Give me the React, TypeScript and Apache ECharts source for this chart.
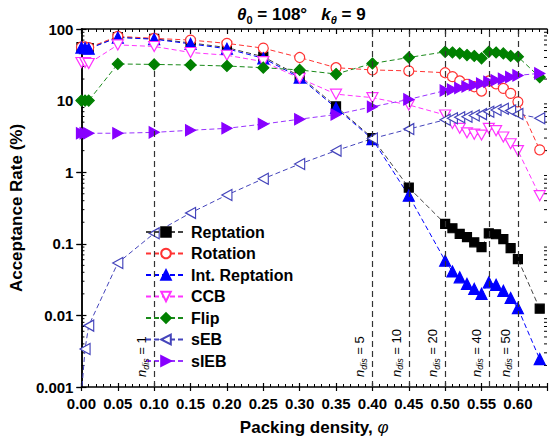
import React, { useEffect, useRef } from "react";
import * as echarts from "echarts";

const phi = [0, 0.005, 0.01, 0.05, 0.1, 0.15, 0.2, 0.25, 0.3, 0.35, 0.4, 0.45, 0.5, 0.51, 0.52, 0.53, 0.54, 0.55, 0.56, 0.57, 0.58, 0.59, 0.6, 0.63];

const reptation = [56, 55, 54, 77, 73, 64, 55, 41, 22, 8.3, 3.0, 0.61, 0.19, 0.165, 0.138, 0.124, 0.105, 0.09, 0.14, 0.136, 0.116, 0.087, 0.061, 0.0124];
const rotation = [56, 56, 55, 79, 74, 70, 63, 54, 40, 28.8, 26.8, 26, 24.5, 21.6, 18.8, 16.9, 15.6, 13.6, 18.8, 17.1, 14.8, 12.6, 9.6, 2.05];
const intReptation = [55, 54, 53, 76, 72, 62, 53, 39, 21, 7.9, 2.9, 0.47, 0.058, 0.041, 0.034, 0.0275, 0.0234, 0.02, 0.029, 0.0267, 0.022, 0.0175, 0.0126, 0.00245];
const ccb = [34, 34, 33, 60, 57, 47, 43, 35, 20.5, 12.3, 11, 8.7, 6.3, 4.8, 4.1, 3.55, 3.4, 3.3, 4.1, 3.8, 3.1, 2.5, 2.0, 0.47];
const flip = [10, 10, 10, 32.5, 32, 31.4, 30.4, 28.8, 26.8, 23.5, 33, 40, 48, 47, 45.7, 43.3, 42, 39, 48, 47, 45.6, 42, 41, 21.2];
const sEB = [0.0008, 0.0034, 0.0072, 0.054, 0.14, 0.27, 0.48, 0.81, 1.3, 2.0, 2.95, 4.0, 5.4, 5.66, 5.85, 5.96, 6.2, 6.47, 7.0, 7.4, 7.7, 7.25, 6.5, 5.66];
const sIEB = [3.5, 3.5, 3.5, 3.5, 3.6, 3.85, 4.1, 4.7, 5.5, 6.4, 8.2, 10.4, 13.8, 14.3, 15, 15.7, 16.5, 17.3, 18.3, 19.2, 20.2, 21.3, 22.5, 24];

const seriesNames = ["Reptation", "Rotation", "Int. Reptation", "CCB", "Flip", "sEB", "sIEB"];

const ndisX = [0.1, 0.4, 0.45, 0.5, 0.56, 0.6];
const ndisTop = [30, 100, 100, 100, 100, 100];
const ndisLabels = ["1", "5", "10", "20", "40", "50"];

const yMinorTicks = [
  0.002, 0.003, 0.004, 0.005, 0.006, 0.007, 0.008, 0.009,
  0.02, 0.03, 0.04, 0.05, 0.06, 0.07, 0.08, 0.09,
  0.2, 0.3, 0.4, 0.5, 0.6, 0.7, 0.8, 0.9,
  2, 3, 4, 5, 6, 7, 8, 9,
  20, 30, 40, 50, 60, 70, 80, 90,
];

const FONT = 'Arial, "Liberation Sans", sans-serif';

const X_MIN = 0;
const X_MAX = 0.64;
const Y_MIN = 0.001;
const Y_MAX = 100;

export default function App() {
  const ref = useRef<HTMLDivElement>(null);

  useEffect(() => {
    if (!ref.current) return;
    const chart = echarts.init(ref.current, null, { renderer: "svg" });

    const pair = (vals: number[]) => phi.map((x, i) => [x, vals[i]]);
    const dash = [5, 3];

    const mkSeries = (
      name: string,
      vals: number[],
      lineColor: string,
      symbol: string,
      size: number | number[],
      fill: string,
      stroke: string
    ) => ({
      name,
      type: "line",
      xAxisIndex: 0,
      yAxisIndex: 0,
      data: pair(vals),
      symbol,
      symbolSize: size,
      showAllSymbol: true,
      lineStyle: { color: lineColor, width: 1, type: dash },
      itemStyle: { color: fill, borderColor: stroke, borderWidth: 1.2 },
      emphasis: { disabled: true },
      z: 3,
    });

    const axisLineStyle = { show: true, lineStyle: { color: "#000", width: 1.5 } };
    const tickStyle = { color: "#000", width: 1.2 };

    const xCommon = { type: "value", min: X_MIN, max: X_MAX, splitLine: { show: false }, gridIndex: 0 };
    const yCommon = { type: "log", logBase: 10, min: Y_MIN, max: Y_MAX, splitLine: { show: false }, gridIndex: 0 };

    const option: any = {
      animation: false,
      backgroundColor: "#fff",
      textStyle: { fontFamily: FONT },
      title: {
        text: "{th|θ}{sub|0}{b| = 108°   }{k|k}{subi|θ}{b| = 9}",
        left: 232,
        top: -2,
        textStyle: {
          rich: {
            th: { fontSize: 17, fontWeight: "bold", fontStyle: "italic", fontFamily: FONT, color: "#000", lineHeight: 22 },
            sub: { fontSize: 11, fontWeight: "bold", fontFamily: FONT, color: "#000", verticalAlign: "bottom", lineHeight: 22 },
            b: { fontSize: 17, fontWeight: "bold", fontFamily: FONT, color: "#000", lineHeight: 22 },
            k: { fontSize: 17, fontWeight: "bold", fontStyle: "italic", fontFamily: FONT, color: "#000", lineHeight: 22 },
            subi: { fontSize: 11, fontWeight: "bold", fontStyle: "italic", fontFamily: FONT, color: "#000", verticalAlign: "bottom", lineHeight: 22 },
          },
        },
      },
      legend: {
        data: seriesNames,
        orient: "vertical",
        left: 140,
        top: 219,
        itemWidth: 40,
        itemHeight: 12,
        itemGap: 5.5,
        selectedMode: false,
        textStyle: { fontSize: 16, fontWeight: "bold", color: "#000", fontFamily: FONT, lineHeight: 16 },
      },
      grid: { left: 61, right: 3, top: 29, bottom: 53.5, containLabel: false },
      xAxis: [
        {
          ...xCommon,
          position: "bottom",
          interval: 0.05,
          axisLine: axisLineStyle,
          axisTick: { show: true, inside: false, length: 4, lineStyle: tickStyle },
          axisLabel: {
            show: true,
            margin: 9,
            fontSize: 15,
            fontWeight: "bold",
            color: "#000",
            fontFamily: FONT,
            formatter: (v: number) => (v > 0.605 ? "" : v.toFixed(2)),
          },
          name: "{a|Packing density, }{p|φ}",
          nameLocation: "middle",
          nameGap: 32,
          nameTextStyle: {
            rich: {
              a: { fontSize: 17, fontWeight: "bold", color: "#000", fontFamily: FONT },
              p: { fontSize: 17, fontStyle: "italic", color: "#000", fontFamily: FONT },
            },
          },
        },
        {
          ...xCommon,
          position: "bottom",
          interval: 0.05,
          axisLine: { show: false },
          axisTick: { show: true, inside: true, length: 4, lineStyle: tickStyle },
          axisLabel: { show: false },
        },
        {
          ...xCommon,
          position: "bottom",
          interval: 0.01,
          axisLine: { show: false },
          axisTick: { show: true, inside: true, length: 3, lineStyle: { color: "#000", width: 1 } },
          axisLabel: { show: false },
        },
        {
          ...xCommon,
          position: "top",
          interval: 0.05,
          axisLine: axisLineStyle,
          axisTick: { show: true, inside: true, length: 5, lineStyle: tickStyle },
          axisLabel: { show: false },
        },
        {
          ...xCommon,
          position: "top",
          interval: 0.01,
          axisLine: { show: false },
          axisTick: { show: true, inside: true, length: 3, lineStyle: { color: "#000", width: 1 } },
          axisLabel: { show: false },
        },
      ],
      yAxis: [
        {
          ...yCommon,
          position: "left",
          axisLine: axisLineStyle,
          axisTick: { show: true, inside: false, length: 5, lineStyle: tickStyle },
          axisLabel: { show: true, margin: 8, fontSize: 15, fontWeight: "bold", color: "#000", fontFamily: FONT },
          name: "Acceptance Rate (%)",
          nameLocation: "middle",
          nameGap: 43,
          nameTextStyle: { fontSize: 17, fontWeight: "bold", color: "#000", fontFamily: FONT },
        },
        {
          ...yCommon,
          position: "left",
          axisLine: { show: false },
          axisTick: { show: true, inside: true, length: 5, lineStyle: tickStyle },
          axisLabel: { show: false },
        },
        {
          ...yCommon,
          position: "right",
          axisLine: axisLineStyle,
          axisTick: { show: true, inside: true, length: 5, lineStyle: tickStyle },
          axisLabel: { show: false },
        },
      ],
      series: [
        {
          type: "custom",
          name: "minorTicks",
          xAxisIndex: 0,
          yAxisIndex: 0,
          silent: true,
          clip: false,
          z: 2,
          data: yMinorTicks.map((v) => [X_MIN, v]),
          renderItem: (_params: any, api: any) => {
            const v = api.value(1);
            const l = api.coord([X_MIN, v]);
            const r = api.coord([X_MAX, v]);
            return {
              type: "group",
              children: [
                { type: "line", shape: { x1: l[0], y1: l[1], x2: l[0] + 3, y2: l[1] }, style: { stroke: "#000", lineWidth: 1 } },
                { type: "line", shape: { x1: r[0] - 3, y1: r[1], x2: r[0], y2: r[1] }, style: { stroke: "#000", lineWidth: 1 } },
              ],
            };
          },
        },
        {
          type: "line",
          name: "ndis",
          xAxisIndex: 0,
          yAxisIndex: 0,
          data: [],
          z: 1,
          markLine: {
            silent: true,
            symbol: ["none", "none"],
            animation: false,
            lineStyle: { color: "#333", width: 1.2, type: [6, 4] },
            label: {
              show: true,
              position: "insideStartTop",
              distance: [10, 4],
              formatter: (p: any) => `{n|n}{d|dis}{t| = ${p.name}}`,
              rich: {
                n: { fontSize: 13, fontStyle: "italic", color: "#000", fontFamily: FONT, lineHeight: 17 },
                d: { fontSize: 9, fontStyle: "italic", color: "#000", fontFamily: FONT, verticalAlign: "bottom", lineHeight: 17 },
                t: { fontSize: 13, color: "#000", fontFamily: FONT, lineHeight: 17 },
              },
            },
            data: ndisX.map((x, i) => [
              { coord: [x, Y_MIN], name: ndisLabels[i] },
              { coord: [x, ndisTop[i]] },
            ]),
          },
        },
        mkSeries("Reptation", reptation, "#444", "rect", 9, "#000", "#000"),
        mkSeries("Rotation", rotation, "#ff3333", "circle", 10, "#fff", "#ff3333"),
        mkSeries("Int. Reptation", intReptation, "#0000ff", "triangle", 11, "#0000ff", "#0000ff"),
        mkSeries("CCB", ccb, "#ff33ff", "path://M0,0L10,0L5,9Z", [11, 10], "#fff", "#ff33ff"),
        mkSeries("Flip", flip, "#1a8a1a", "diamond", 11, "#008000", "#008000"),
        mkSeries("sEB", sEB, "#4444bb", "path://M9,0L9,10L0,5Z", [10, 11], "#fff", "#4444bb"),
        mkSeries("sIEB", sIEB, "#9933ff", "path://M0,0L9,5L0,10Z", [10, 11], "#8800ff", "#8800ff"),
      ],
    };

    chart.setOption(option);
    return () => chart.dispose();
  }, []);

  return <div ref={ref} style={{ position: "absolute", left: 0, top: 0, width: 550, height: 441 }} />;
}
